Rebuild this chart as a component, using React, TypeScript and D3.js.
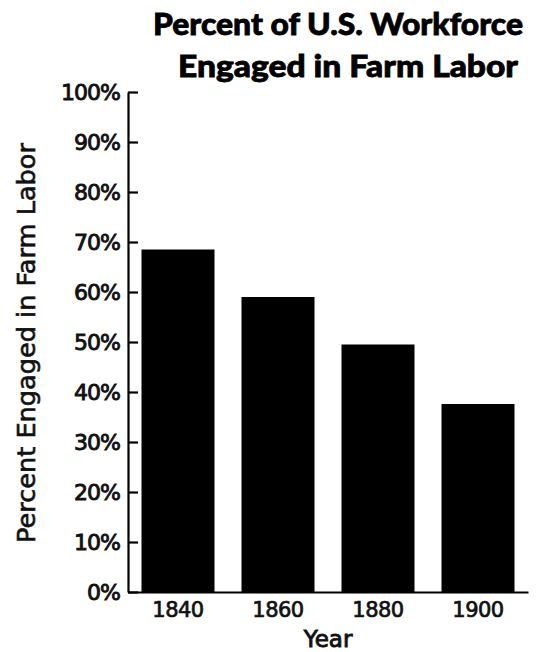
import React, { useEffect, useRef } from "react";
import * as d3 from "d3";

const years = ["1840", "1860", "1880", "1900"];
const farmPercent = [68.5, 59, 49.5, 37.6];
const yTicks = [0, 10, 20, 30, 40, 50, 60, 70, 80, 90, 100];
const titleLines = ["Percent of U.S. Workforce", "Engaged in Farm Labor"];
const xLabel = "Year";
const yLabel = "Percent Engaged in Farm Labor";

const W = 542;
const H = 652;
const left = 128;
const right = 528;
const top = 92;
const bottom = 592;

export default function App() {
  const ref = useRef<SVGSVGElement>(null);

  useEffect(() => {
    const svg = d3.select(ref.current);
    svg.selectAll("*").remove();

    const x = d3.scaleBand().domain(years).range([left, right]).paddingInner(0.27).paddingOuter(0.135);
    const y = d3.scaleLinear().domain([0, 100]).range([bottom, top]);

    // bars
    svg
      .append("g")
      .selectAll("rect")
      .data(years.map((yr, i) => ({ yr, v: farmPercent[i] })))
      .join("rect")
      .attr("x", (d) => x(d.yr)!)
      .attr("width", x.bandwidth())
      .attr("y", (d) => y(d.v))
      .attr("height", (d) => y(0) - y(d.v))
      .attr("fill", "#000");

    // y axis
    const yAxis = svg
      .append("g")
      .attr("transform", `translate(${left},0)`)
      .call(
        d3
          .axisLeft(y)
          .tickValues(yTicks)
          .tickFormat((d) => `${d}%`)
          .tickSizeInner(-10)
          .tickSizeOuter(0)
          .tickPadding(8)
      );
    yAxis.select(".domain").attr("stroke", "#000").attr("stroke-width", 2.2);
    yAxis.selectAll(".tick line").attr("stroke", "#000").attr("stroke-width", 2.2);
    yAxis
      .selectAll(".tick text")
      .attr("fill", "#111")
      .attr("stroke", "#111")
      .attr("stroke-width", 0.9)
      .style("font-family", "'DejaVu Sans', sans-serif")
      .style("font-size", "22px")
      .attr("letter-spacing", "-1");

    // x axis
    const xAxis = svg
      .append("g")
      .attr("transform", `translate(0,${bottom})`)
      .call(d3.axisBottom(x).tickSize(0).tickPadding(10));
    xAxis.select(".domain").attr("stroke", "#000").attr("stroke-width", 2.2);
    xAxis
      .selectAll(".tick text")
      .attr("fill", "#111")
      .attr("stroke", "#111")
      .attr("stroke-width", 0.7)
      .style("font-family", "'DejaVu Sans', sans-serif")
      .style("font-size", "21px")
      .attr("letter-spacing", "-0.5");

    // title
    const titleCenters = [338, 348];
    const titleBaselines = [35, 77];
    const titleWidths = [370, 340];
    svg
      .append("g")
      .selectAll("text")
      .data(titleLines)
      .join("text")
      .attr("x", (_, i) => titleCenters[i])
      .attr("y", (_, i) => titleBaselines[i])
      .attr("text-anchor", "middle")
      .attr("textLength", (_, i) => titleWidths[i])
      .attr("lengthAdjust", "spacingAndGlyphs")
      .style("font-family", "Lato, 'DejaVu Sans', sans-serif")
      .style("font-size", "31px")
      .style("font-weight", 900)
      .attr("fill", "#000")
      .attr("stroke", "#000")
      .attr("stroke-width", 0.8)
      .text((d) => d);

    // x label
    svg
      .append("text")
      .attr("x", (left + right) / 2)
      .attr("y", 647)
      .attr("text-anchor", "middle")
      .style("font-family", "'DejaVu Sans', sans-serif")
      .style("font-size", "23px")
      .attr("fill", "#111")
      .attr("stroke", "#111")
      .attr("stroke-width", 0.9)
      .text(xLabel);

    // y label
    svg
      .append("text")
      .attr("transform", `translate(35,343) rotate(-90)`)
      .attr("text-anchor", "middle")
      .attr("textLength", 400)
      .attr("lengthAdjust", "spacingAndGlyphs")
      .style("font-family", "'DejaVu Sans', sans-serif")
      .style("font-size", "24px")
      .attr("fill", "#111")
      .attr("stroke", "#111")
      .attr("stroke-width", 0.6)
      .text(yLabel);
  }, []);

  return (
    <svg
      ref={ref}
      width={W}
      height={H}
      style={{ position: "absolute", left: 0, top: 0, background: "#fff" }}
    />
  );
}
